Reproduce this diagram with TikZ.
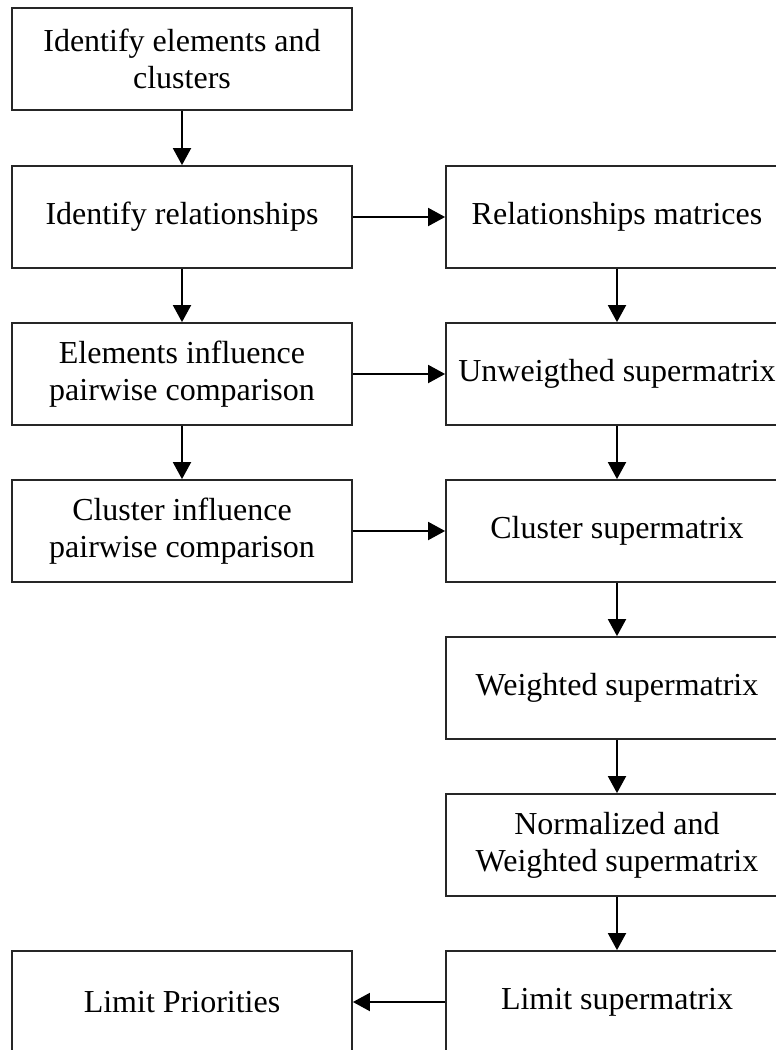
\documentclass[tikz,border=0pt]{standalone}
\usepackage{fontspec}
\setmainfont{Liberation Serif}
\usetikzlibrary{arrows.meta}
\begin{document}
\begin{tikzpicture}[x=1pt,y=-1pt,
  box/.style={draw=black!85, line width=1.8pt, fill=white, minimum width=340pt, minimum height=102pt,
    inner sep=0pt, align=center, font=\fontsize{32}{37}\selectfont},
  rbox/.style={box, minimum width=342pt},
  conn/.style={line width=1.9pt, -{Triangle[length=17pt,width=18pt]}}]
\useasboundingbox (0,0) rectangle (776,1050);
\clip (0,0) rectangle (776,1050);
\node[box] (ide) at (182,59) {Identify elements and\\clusters};
\node[box] (idr) at (182,217) {Identify relationships};
\node[box] (eip) at (182,374) {Elements influence\\pairwise comparison};
\node[box] (cip) at (182,531) {Cluster influence\\pairwise comparison};
\node[box] (lp) at (182,1002) {Limit Priorities};
\node[rbox] (rm) at (617,217) {Relationships matrices};
\node[rbox] (us) at (617,374) {Unweigthed supermatrix};
\node[rbox] (cs) at (617,531) {Cluster supermatrix};
\node[rbox] (ws) at (617,688) {Weighted supermatrix};
\node[rbox] (nws) at (617,845) {Normalized and\\Weighted supermatrix};
\node[rbox] (ls) at (617,1002) {Limit supermatrix};
\draw[conn] (ide) -- (idr);
\draw[conn] (idr) -- (eip);
\draw[conn] (eip) -- (cip);
\draw[conn] (idr) -- (rm);
\draw[conn] (eip) -- (us);
\draw[conn] (cip) -- (cs);
\draw[conn] (rm) -- (us);
\draw[conn] (us) -- (cs);
\draw[conn] (cs) -- (ws);
\draw[conn] (ws) -- (nws);
\draw[conn] (nws) -- (ls);
\draw[conn] (ls) -- (lp);
\end{tikzpicture}
\end{document}
